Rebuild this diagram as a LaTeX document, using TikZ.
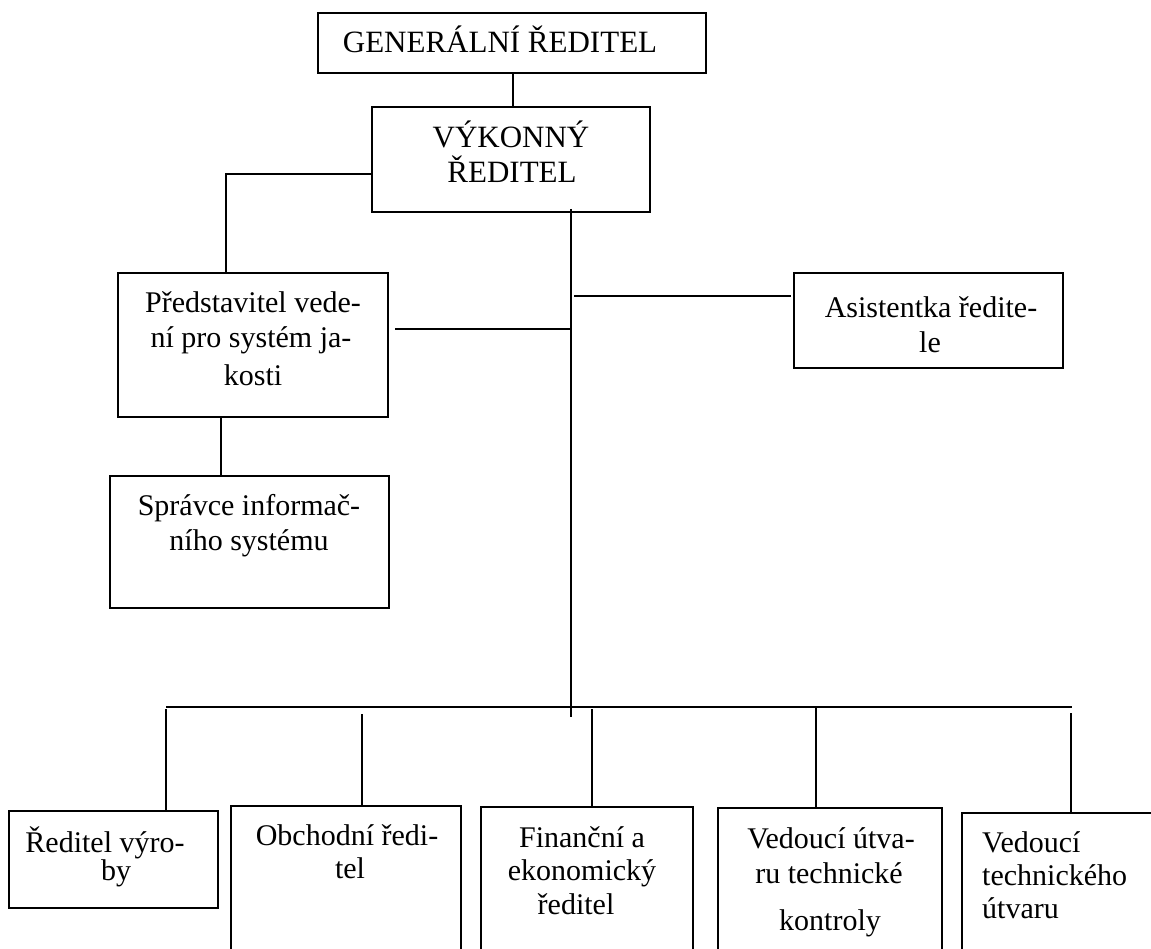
\documentclass[tikz,border=0pt]{standalone}
\usepackage{fontspec}
\setmainfont{Liberation Serif}
\usetikzlibrary{fit}
\begin{document}
\begin{tikzpicture}[x=1pt,y=-1pt,
  box/.style={draw,line width=1.5pt,inner sep=0pt},
  conn/.style={line width=1.5pt},
  txt/.style={anchor=base,inner sep=0pt,font=\fontsize{30}{35}\selectfont},
  head/.style={anchor=base,inner sep=0pt,font=\fontsize{31}{36}\selectfont},
  ltxt/.style={anchor=base west,inner sep=0pt,font=\fontsize{30}{35}\selectfont}]
\useasboundingbox (0,0) rectangle (1151,949);
\clip (0,0) rectangle (1151,949);
% boxes
\node[box,fit={(318,13) (706,73)}] (gen) {};
\node[box,fit={(372,107) (650,212)}] (vyk) {};
\node[box,fit={(118,273) (388,417)}] (pred) {};
\node[box,fit={(110,476) (389,608)}] (sprav) {};
\node[box,fit={(794,273) (1063,368)}] (asist) {};
\node[box,fit={(9,811) (218,908)}] (b1) {};
\node[box,fit={(231,806) (461,980)}] (b2) {};
\node[box,fit={(481,807) (693,980)}] (b3) {};
\node[box,fit={(718,808) (942,980)}] (b4) {};
\node[box,fit={(962,813) (1180,980)}] (b5) {};
% texts
\node[head] (tgen) at (500,53) {GENERÁLNÍ ŘEDITEL};
\node[head] (tvyk1) at (511,148) {VÝKONNÝ};
\node[head] (tvyk2) at (512,183) {ŘEDITEL};
\node[txt] (tp1) at (253,313) {Představitel vede-};
\node[txt] (tp2) at (251,348) {ní pro systém ja-};
\node[txt] (tp3) at (253,385) {kosti};
\node[txt] (ts1) at (249,515) {Správce informač-};
\node[txt] (ts2) at (249,550) {ního systému};
\node[txt] (ta1) at (931,318) {Asistentka ředite-};
\node[txt] (ta2) at (930,353) {le};
\node[txt] (t11) at (105,852) {Ředitel výro-};
\node[txt] (t12) at (116,880) {by};
\node[txt] (t21) at (347,845) {Obchodní ředi-};
\node[txt] (t22) at (350,878) {tel};
\node[txt] (t31) at (582,847) {Finanční a};
\node[txt] (t32) at (582,880) {ekonomický};
\node[txt] (t33) at (576,914) {ředitel};
\node[txt] (t41) at (831,848) {Vedoucí útva-};
\node[txt] (t42) at (829,883) {ru technické};
\node[txt] (t43) at (830,930) {kontroly};
\node[ltxt] (t51) at (982,852) {Vedoucí};
\node[ltxt] (t52) at (982,885) {technického};
\node[ltxt] (t53) at (982,918) {útvaru};
% connector coordinates
\coordinate (gv) at (513,73);
\coordinate (c1) at (226,174);
\coordinate (ttop) at (571,209);
\coordinate (tbot) at (571,717);
\coordinate (p1) at (395,329);
\coordinate (a1) at (574,296);
\coordinate (a2) at (791,296);
\coordinate (sv) at (221,417);
\coordinate (busL) at (166,707);
\coordinate (busR) at (1072,707);
\coordinate (d1) at (166,709);
\coordinate (d2) at (362,714);
\coordinate (d3) at (592,709);
\coordinate (d4) at (816,707);
\coordinate (d5) at (1071,713);
% connectors
\draw[conn] (gv) -- (gv |- vyk.north);
\draw[conn] (vyk.west |- c1) -- (c1) -- (c1 |- pred.north);
\draw[conn] (ttop) -- (tbot);
\draw[conn] (p1) -- (p1 -| ttop);
\draw[conn] (a1) -- (a2);
\draw[conn] (sv) -- (sv |- sprav.north);
\draw[conn] (busL) -- (busR);
\draw[conn] (d1) -- (d1 |- b1.north);
\draw[conn] (d2) -- (d2 |- b2.north);
\draw[conn] (d3) -- (d3 |- b3.north);
\draw[conn] (d4) -- (d4 |- b4.north);
\draw[conn] (d5) -- (d5 |- b5.north);
\end{tikzpicture}
\end{document}
